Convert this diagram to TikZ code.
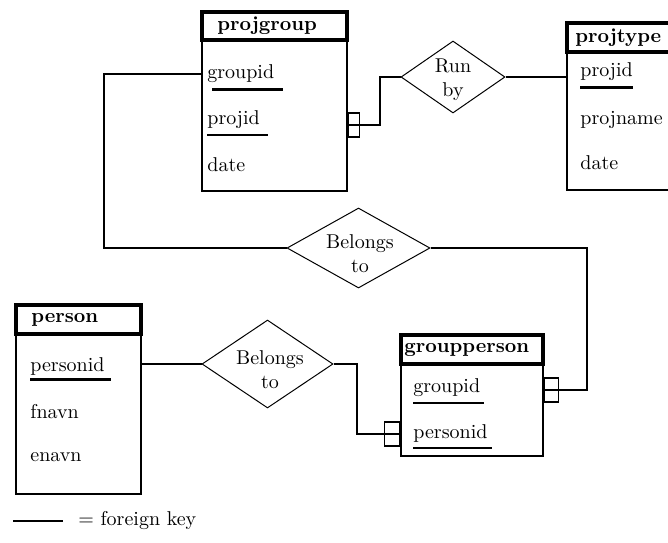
\documentclass[tikz,border=0pt]{standalone}
\usepackage{amsmath}
\usetikzlibrary{shapes.geometric}

\tikzset{
  entbox/.style={draw, line width=0.8pt, inner sep=0pt},
  enthead/.style={draw, line width=1.6pt, inner sep=0pt},
  enttitle/.style={anchor=west, inner sep=0pt, font=\bfseries},
  attr/.style={anchor=west, inner sep=0pt},
  relship/.style={draw, diamond, line width=0.5pt, inner sep=0pt},
  reltext/.style={align=center, inner sep=0pt},
  fkmark/.style={draw, line width=0.8pt, inner sep=0pt, minimum height=12pt},
  link/.style={line width=0.8pt},
  pkline/.style={line width=1.5pt},
  fkline/.style={line width=0.6pt}
}

\begin{document}
\begin{tikzpicture}[x=0.5pt, y=-0.5pt]
            \useasboundingbox (0,0) rectangle (668,542);
            \node[entbox, minimum width=72.5pt, minimum height=89.5pt] (pg) at (274.5,101.5) {};
            \node[enthead, minimum width=72.5pt, minimum height=14pt] (pgHead) at (274.5,26) {};
            \node[enttitle] (pgTitle) at (217,26) {projgroup};
            \node[attr] (pgGroupid) at (207,74) {groupid};
            \node[attr] (pgProjid) at (207,120) {projid};
            \node[attr] (pgDate) at (207,165) {date};
            \draw[pkline] (212,89) -- (283,89);
            \draw[fkline] (207,135) -- (268,135);
            \node[entbox, minimum width=61.5pt, minimum height=83.5pt] (pt) at (628.5,106.5) {};
            \node[enthead, minimum width=61.5pt, minimum height=14.5pt] (ptHead) at (628.5,37.5) {};
            \node[enttitle] (ptTitle) at (575,37.5) {projtype};
            \node[attr] (ptProjid) at (580,72) {projid};
            \node[attr] (ptProjname) at (580,120) {projname};
            \node[attr] (ptDate) at (580,163) {date};
            \draw[pkline] (580,87) -- (633,87);
            \node[entbox, minimum width=62.5pt, minimum height=94.5pt] (ps) at (78.5,399.5) {};
            \node[enthead, minimum width=62.5pt, minimum height=14.5pt] (psHead) at (78.5,319.5) {};
            \node[enttitle] (psTitle) at (31,319.5) {person};
            \node[attr] (psPersonid) at (30,366) {personid};
            \node[attr] (psFnavn) at (30,412) {fnavn};
            \node[attr] (psEnavn) at (30,457) {enavn};
            \draw[pkline] (30,379) -- (111,379);
            \node[entbox, minimum width=71pt, minimum height=60.5pt] (gp) at (472,395.5) {};
            \node[enthead, minimum width=71pt, minimum height=14.5pt] (gpHead) at (472,349.5) {};
            \node[enttitle] (gpTitle) at (404,349.5) {groupperson};
            \node[attr] (gpGroupid) at (413,388) {groupid};
            \node[attr] (gpPersonid) at (413,433) {personid};
            \draw[fkline] (413,403) -- (484,403);
            \draw[fkline] (413,448) -- (492,448);
            \node[relship, minimum width=52pt, minimum height=36pt] (runby) at (453,77) {};
            \node[reltext] (runbyTxt) at (453,80) {Run\\by};
            \node[relship, minimum width=71.5pt, minimum height=40pt] (belA) at (358.5,248) {};
            \node[reltext] (belATxt) at (360,254) {Belongs\\to};
            \node[relship, minimum width=65.5pt, minimum height=44pt] (belB) at (267.5,364) {};
            \node[reltext] (belBTxt) at (270,370) {Belongs\\to};
            \node[fkmark, minimum width=5.5pt, anchor=west] (mk1) at (pg.east |- 0,125) {};
            \node[fkmark, minimum width=7pt, anchor=west] (mk2) at (gp.east |- 0,390) {};
            \node[fkmark, minimum width=7.5pt, anchor=east] (mk3) at (gp.west |- 0,434) {};
            \coordinate (bendA) at (104,248);
            \coordinate (bendB) at (587,390);
            \coordinate (bendC) at (357,434);
            \coordinate (bendD) at (380,77);
            \draw[link] (pg.west |- pgGroupid) -| (bendA) -- (belA.west);
            \draw[link] (mk1.west) -- (mk1.east) -| (bendD) -- (runby.west);
            \draw[link] (runby.east) -- (pt.west |- runby.east);
            \draw[link] (belA.east) -| (bendB) -- (mk2.west);
            \draw[link] (ps.east |- belB.west) -- (belB.west);
            \draw[link] (belB.east) -| (bendC) -- (mk3.east);
            \coordinate (legA) at (13,521);
            \coordinate (legB) at (63,521);
            \draw[link] (legA) -- (legB);
            \node[attr] (legText) at (78,520) {= foreign key};
        \end{tikzpicture}
\end{document}
